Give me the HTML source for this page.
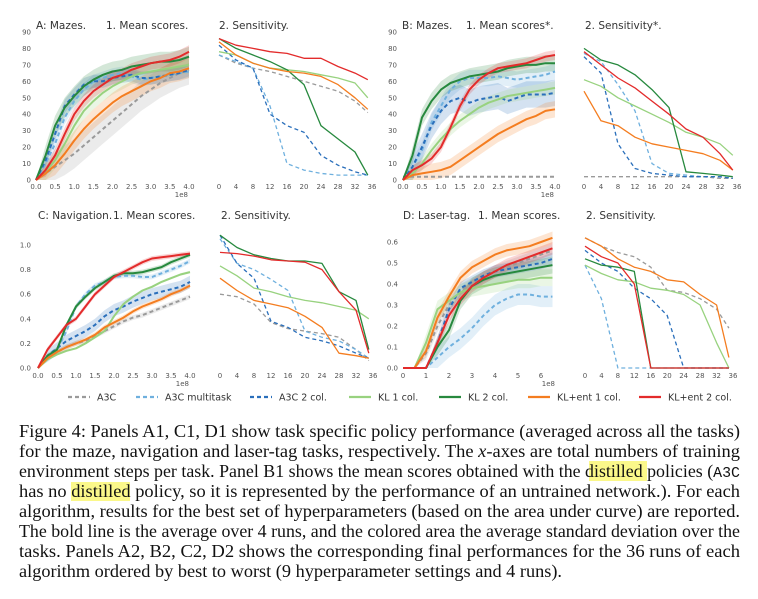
<!DOCTYPE html>
<html><head><meta charset="utf-8"><style>
html,body{margin:0;padding:0;background:#fff;}
svg{display:block;}
.tk{font-family:"DejaVu Sans","Liberation Sans",sans-serif;font-size:7px;fill:#555;}
.tt{font-family:"DejaVu Sans","Liberation Sans",sans-serif;font-size:10.5px;fill:#333;}
.lg{font-family:"DejaVu Sans","Liberation Sans",sans-serif;font-size:9.5px;fill:#333;}
.cap{font-family:"Liberation Serif",serif;font-size:18px;fill:#111;}
</style></head><body>
<svg id="fig" width="758" height="599" viewBox="0 0 758 599" xmlns="http://www.w3.org/2000/svg">
<rect x="589" y="461" width="58" height="20" fill="#fbf88a"/>
<rect x="71" y="482" width="59" height="19" fill="#fbf88a"/>
<g>
<text class="cap" x="19" y="437" textLength="721" lengthAdjust="spacingAndGlyphs">Figure 4: Panels A1, C1, D1 show task specific policy performance (averaged across all the tasks)</text>
<text class="cap" x="19" y="457" textLength="721" lengthAdjust="spacingAndGlyphs">for the maze, navigation and laser-tag tasks, respectively. The <tspan font-style="italic">x</tspan>-axes are total numbers of training</text>
<text class="cap" x="19" y="477" textLength="721" lengthAdjust="spacingAndGlyphs">environment steps per task. Panel B1 shows the mean scores obtained with the distilled policies (<tspan font-family="Liberation Mono" font-size="15">A3C</tspan></text>
<text class="cap" x="19" y="497" textLength="721" lengthAdjust="spacingAndGlyphs">has no distilled policy, so it is represented by the performance of an untrained network.). For each</text>
<text class="cap" x="19" y="517" textLength="721" lengthAdjust="spacingAndGlyphs">algorithm, results for the best set of hyperparameters (based on the area under curve) are reported.</text>
<text class="cap" x="19" y="537" textLength="721" lengthAdjust="spacingAndGlyphs">The bold line is the average over 4 runs, and the colored area the average standard deviation over the</text>
<text class="cap" x="19" y="557" textLength="721" lengthAdjust="spacingAndGlyphs">tasks. Panels A2, B2, C2, D2 shows the corresponding final performances for the 36 runs of each</text>
<text class="cap" x="19" y="577" textLength="543" lengthAdjust="spacingAndGlyphs">algorithm ordered by best to worst (9 hyperparameter settings and 4 runs).</text>
</g>
</svg>
<script>
// ---- data ----
const seriesNames = ['A3C','A3C multitask','A3C 2 col.','KL 1 col.','KL 2 col.','KL+ent 1 col.','KL+ent 2 col.'];
const xMeanAB = [0,0.25,0.5,0.75,1,1.25,1.5,1.75,2,2.25,2.5,2.75,3,3.25,3.5,3.75,4];
const xMeanD = [0,0.5,1,1.5,2,2.5,3,3.5,4,4.5,5,5.5,6,6.5];
const xSens = [0,4,8,12,16,20,24,28,32,35];

const a1A3C = [0,4,8,12,16,21,26,31,36,41,46,51,55,59,62,65,67];
const a1MT  = [0,10,22,38,48,55,60,62,64,65,63,61,62,63,64,65,66];
const a1C2  = [0,12,28,45,52,58,60,60,62,63,64,62,62,63,64,65,67];
const a1KL1 = [0,5,12,22,33,42,48,53,57,60,63,65,66,67,68,69,70];
const a1KL2 = [0,15,33,44,51,57,61,64,66,67,69,70,71,72,72,73,75];
const a1KE1 = [0,4,9,16,24,31,37,42,47,51,54,57,60,62,65,66,68];
const a1KE2 = [0,6,15,28,40,48,54,58,62,64,67,69,71,72,73,75,78];
const a1Std = [9,4,4,5,6,6,4];

const a2A3C = [76,71,68,66,63,60,57,54,48,41];
const a2MT  = [76,72,68,45,10,6,4,3,3,3];
const a2C2  = [82,73,68,40,33,29,15,9,5,3];
const a2KL1 = [78,76,71,68,67,66,64,62,59,50];
const a2KL2 = [86,80,76,72,67,58,33,25,17,3];
const a2KE1 = [84,76,71,68,66,65,63,58,50,43];
const a2KE2 = [86,82,80,78,77,74,74,69,65,61];

const b1A3C = [2,2,2,2,2,2,2,2,2,2,2,2,2,2,2,2,2];
const b1MT  = [0,8,18,35,45,55,60,62,62,62,63,62,61,62,63,64,66];
const b1C2  = [0,8,20,33,42,48,50,47,49,50,51,48,50,52,52,52,53];
const b1KL1 = [0,4,10,18,25,31,36,40,44,47,49,51,52,53,54,55,56];
const b1KL2 = [0,15,38,48,55,59,61,63,64,65,66,68,69,70,70,71,71];
const b1KE1 = [0,3,4,5,6,8,12,16,20,24,28,31,34,37,39,42,43];
const b1KE2 = [0,6,9,13,20,32,45,55,61,65,68,69,70,71,73,75,76];
const b1Std = [0,5,8,4,5,5,3];

const b2A3C = [2,2,2,2,2,2,2,2,1,1];
const b2MT  = [77,72,58,42,10,4,3,2,2,1];
const b2C2  = [75,65,22,7,4,3,2,2,2,1];
const b2KL1 = [61,57,50,45,40,35,29,26,22,15];
const b2KL2 = [80,73,70,64,55,44,5,4,3,2];
const b2KE1 = [54,36,33,26,22,20,18,16,12,6];
const b2KE2 = [78,70,62,56,48,40,31,26,16,6];

const c1A3C = [0,0.08,0.13,0.17,0.2,0.22,0.26,0.3,0.34,0.38,0.41,0.43,0.46,0.49,0.52,0.55,0.58];
const c1MT  = [0,0.08,0.15,0.3,0.5,0.6,0.67,0.7,0.74,0.75,0.75,0.74,0.74,0.77,0.8,0.83,0.87];
const c1C2  = [0,0.1,0.16,0.22,0.26,0.3,0.35,0.42,0.47,0.5,0.54,0.57,0.6,0.62,0.64,0.66,0.7];
const c1KL1 = [0,0.07,0.11,0.14,0.16,0.2,0.25,0.3,0.42,0.52,0.58,0.63,0.66,0.7,0.73,0.76,0.78];
const c1KL2 = [0,0.1,0.15,0.35,0.5,0.58,0.65,0.7,0.75,0.77,0.77,0.78,0.8,0.82,0.86,0.89,0.92];
const c1KE1 = [0,0.08,0.13,0.17,0.2,0.23,0.27,0.33,0.37,0.41,0.46,0.5,0.53,0.56,0.6,0.63,0.67];
const c1KE2 = [0,0.15,0.25,0.35,0.4,0.5,0.6,0.67,0.74,0.78,0.82,0.86,0.89,0.9,0.91,0.92,0.93];
const c1Std = [0.02,0.02,0.05,0.01,0.02,0.02,0.02];

const c2A3C = [0.6,0.58,0.52,0.37,0.32,0.3,0.28,0.25,0.15,0.06];
const c2MT  = [1.05,0.85,0.8,0.72,0.63,0.3,0.25,0.22,0.15,0.08];
const c2C2  = [1.08,0.85,0.73,0.38,0.33,0.25,0.22,0.18,0.12,0.08];
const c2KL1 = [0.83,0.75,0.65,0.62,0.58,0.55,0.53,0.5,0.47,0.4];
const c2KL2 = [1.08,0.98,0.92,0.89,0.87,0.87,0.85,0.62,0.55,0.15];
const c2KE1 = [0.73,0.63,0.55,0.52,0.49,0.42,0.33,0.12,0.1,0.08];
const c2KE2 = [0.94,0.93,0.91,0.88,0.87,0.86,0.8,0.62,0.47,0.12];

const d1A3C = [0,0,0.07,0.2,0.3,0.37,0.4,0.43,0.46,0.48,0.5,0.52,0.54,0.56];
const d1MT  = [0,0,0,0.05,0.1,0.14,0.19,0.25,0.3,0.33,0.35,0.35,0.34,0.34];
const d1C2  = [0,0,0,0.12,0.28,0.38,0.41,0.44,0.46,0.47,0.48,0.49,0.5,0.52];
const d1KL1 = [0,0,0.12,0.28,0.32,0.36,0.38,0.39,0.4,0.41,0.42,0.42,0.43,0.43];
const d1KL2 = [0,0,0,0.1,0.18,0.32,0.39,0.42,0.44,0.45,0.46,0.47,0.48,0.49];
const d1KE1 = [0,0,0.08,0.24,0.34,0.43,0.48,0.51,0.54,0.56,0.57,0.58,0.6,0.62];
const d1KE2 = [0,0,0,0.12,0.25,0.33,0.39,0.43,0.46,0.49,0.51,0.53,0.55,0.57];
const d1Std = [0.03,0.05,0.03,0.04,0.04,0.03,0.03];

const d2A3C = [0.62,0.58,0.55,0.53,0.48,0.37,0.36,0.33,0.28,0.19];
const d2MT  = [0.49,0.33,0,0,0,0,0,0,0,0];
const d2C2  = [0.56,0.5,0.46,0.38,0.33,0.25,0,0,0,0];
const d2KL1 = [0.49,0.45,0.42,0.41,0.38,0.37,0.35,0.3,0.12,0];
const d2KL2 = [0.52,0.49,0.48,0.46,0,0,0,0,0,0];
const d2KE1 = [0.62,0.58,0.52,0.48,0.46,0.42,0.41,0.35,0.3,0.05];
const d2KE2 = [0.58,0.53,0.5,0.4,0,0,0,0,0,0];

const meanTicksAB = ['0.0','0.5','1.0','1.5','2.0','2.5','3.0','3.5','4.0'];
const meanTicksD = ['0','1','2','3','4','5','6'];
const sensTicks = ['0','4','8','12','16','20','24','28','32','36'];
const yTicksAB = ['0','10','20','30','40','50','60','70','80','90'];
const yTicksC = ['0.0','0.2','0.4','0.6','0.8','1.0'];
const yTicksD = ['0.0','0.1','0.2','0.3','0.4','0.5','0.6'];

// ---- styles ----
const colors = ['#9a9a9a','#6fb0de','#2a6fbb','#98d27f','#27893e','#f47d20','#e32b2b'];
const dashes = ['4,3','4,3','4,3',null,null,null,null];
const NS = 'http://www.w3.org/2000/svg';
const svg = document.getElementById('fig');

function el(tag, attrs, parent){
  const e = document.createElementNS(NS, tag);
  for (const k in attrs) e.setAttribute(k, attrs[k]);
  (parent||svg).appendChild(e);
  return e;
}
function scale(d0,d1,r0,r1){ return v => r0 + (v-d0)/(d1-d0)*(r1-r0); }

function drawPanel(name, xs, data, std, sx, sy, lw){
  const g = el('g', {});
  
  
  if (std) data.forEach((vals, si) => {
    if (!std[si]) return;
    let top = [], bot = [];
    vals.forEach((v,i) => {
      const s = Math.min(std[si], v);
      top.push(sx(xs[i]).toFixed(1)+','+sy(v+s).toFixed(1));
      bot.unshift(sx(xs[i]).toFixed(1)+','+sy(Math.max(0,v-s)).toFixed(1));
    });
    const b = el('polygon', {points: top.concat(bot).join(' '), fill: colors[si], 'fill-opacity': 0.2, stroke: 'none'}, g);
    
    
  });
  data.forEach((vals, si) => {
    const pts = vals.map((v,i) => sx(xs[i]).toFixed(1)+','+sy(v).toFixed(1)).join(' ');
    const a = {points: pts, fill: 'none', stroke: colors[si], 'stroke-width': lw, 'stroke-linejoin': 'round'};
    if (dashes[si]) a['stroke-dasharray'] = dashes[si];
    const p = el('polyline', a, g);
    
    
  });
}
function xTicks(labels, vals, sx, y){
  labels.forEach((t,i) => {
    const e = el('text', {class:'tk', x: sx(vals[i]), y: y, 'text-anchor':'middle'});
    
    
    e.textContent = t;
  });
}
function yTicks(labels, sy, x){
  labels.forEach(t => {
    const e = el('text', {class:'tk', x: x, y: sy(parseFloat(t))+2.5, 'text-anchor':'end'});
    
    
    e.textContent = t;
  });
}
function txt(cls, x, y, s, name, anchor){
  const e = el('text', {class: cls, x: x, y: y, 'text-anchor': anchor||'start'});
  
  
  e.textContent = s;
  return e;
}
const num = a => a.map(parseFloat);

// Panel A
let syA = scale(0,90,180,32);
let sx = scale(0,4,36,189);
drawPanel('panel-a1', xMeanAB, [a1A3C,a1MT,a1C2,a1KL1,a1KL2,a1KE1,a1KE2], a1Std, sx, syA, 2);
xTicks(meanTicksAB, num(meanTicksAB), sx, 189); yTicks(yTicksAB, syA, 31);
txt('tk', 188, 197, '1e8', 'x-axis-exponent', 'end');
sx = scale(0,36,219,372);
drawPanel('panel-a2', xSens, [a2A3C,a2MT,a2C2,a2KL1,a2KL2,a2KE1,a2KE2], null, sx, syA, 1.3);
xTicks(sensTicks, num(sensTicks), sx, 189);
txt('tt', 36, 29, 'A: Mazes.', 'panel-a-title');
txt('tt', 106, 29, '1. Mean scores.', 'panel-a1-title');
txt('tt', 219, 29, '2. Sensitivity.', 'panel-a2-title');

// Panel B
sx = scale(0,4,403,555);
drawPanel('panel-b1', xMeanAB, [b1A3C,b1MT,b1C2,b1KL1,b1KL2,b1KE1,b1KE2], b1Std, sx, syA, 2);
xTicks(meanTicksAB, num(meanTicksAB), sx, 189); yTicks(yTicksAB, syA, 397);
txt('tk', 554, 197, '1e8', 'x-axis-exponent', 'end');
sx = scale(0,36,584,737);
drawPanel('panel-b2', xSens, [b2A3C,b2MT,b2C2,b2KL1,b2KL2,b2KE1,b2KE2], null, sx, syA, 1.3);
xTicks(sensTicks, num(sensTicks), sx, 189);
txt('tt', 402, 29, 'B: Mazes.', 'panel-b-title');
txt('tt', 466, 29, '1. Mean scores*.', 'panel-b1-title');
txt('tt', 585, 29, '2. Sensitivity*.', 'panel-b2-title');

// Panel C
const syC = scale(0,1,368,245);
sx = scale(0,4,38,190);
drawPanel('panel-c1', xMeanAB, [c1A3C,c1MT,c1C2,c1KL1,c1KL2,c1KE1,c1KE2], c1Std, sx, syC, 2);
xTicks(meanTicksAB, num(meanTicksAB), sx, 378); yTicks(yTicksC, syC, 31);
txt('tk', 189, 386, '1e8', 'x-axis-exponent', 'end');
sx = scale(0,36,220,373);
drawPanel('panel-c2', xSens, [c2A3C,c2MT,c2C2,c2KL1,c2KL2,c2KE1,c2KE2], null, sx, syC, 1.3);
xTicks(sensTicks, num(sensTicks), sx, 378);
txt('tt', 38, 219, 'C: Navigation.', 'panel-c-title');
txt('tt', 113, 219, '1. Mean scores.', 'panel-c1-title');
txt('tt', 221, 219, '2. Sensitivity.', 'panel-c2-title');

// Panel D
const syD = scale(0,0.6,368,242);
sx = scale(0,6,403,541);
drawPanel('panel-d1', xMeanD, [d1A3C,d1MT,d1C2,d1KL1,d1KL2,d1KE1,d1KE2], d1Std, sx, syD, 2);
xTicks(meanTicksD, num(meanTicksD), sx, 378); yTicks(yTicksD, syD, 398);
txt('tk', 555, 386, '1e8', 'x-axis-exponent', 'end');
sx = scale(0,36,585,733);
drawPanel('panel-d2', xSens, [d2A3C,d2MT,d2C2,d2KL1,d2KL2,d2KE1,d2KE2], null, sx, syD, 1.3);
xTicks(sensTicks, num(sensTicks), sx, 378);
txt('tt', 403, 219, 'D: Laser-tag.', 'panel-d-title');
txt('tt', 478, 219, '1. Mean scores.', 'panel-d1-title');
txt('tt', 586, 219, '2. Sensitivity.', 'panel-d2-title');

// Legend
const legX = [68,136,250,349,439,528,639];
const legG = el('g', {});


seriesNames.forEach((n,i) => {
  const a = {x1: legX[i], x2: legX[i]+22, y1: 397, y2: 397, stroke: colors[i], 'stroke-width': 2.2};
  if (dashes[i]) a['stroke-dasharray'] = '4,3';
  const l = el('line', a, legG);
  
  
  const t = el('text', {class:'lg', x: legX[i]+29, y: 400.5}, legG);
  
  
  t.textContent = n;
});
</script>
</body></html>
